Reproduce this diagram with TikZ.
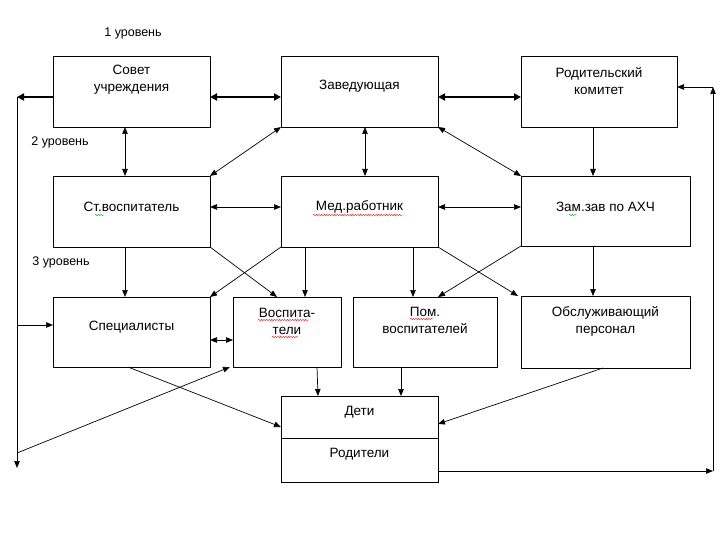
\documentclass[tikz,border=0pt]{standalone}
\usepackage{fontspec}
\setmainfont{Liberation Sans}
\usetikzlibrary{arrows.meta, calc, decorations.pathmorphing}

\begin{document}
\begin{tikzpicture}[x=1pt, y=-1pt, font=\fontsize{13.5}{17}\selectfont,
	box/.style={draw, line width=0.8pt, inner sep=0pt, outer sep=0pt},
	txt/.style={align=center, inner sep=0pt},
	lev/.style={font=\fontsize{12.5}{15}\selectfont},
	conn/.style={line width=0.7pt, -{Triangle[length=7pt,width=5.5pt]}},
	both/.style={line width=0.7pt, {Triangle[length=7pt,width=5.5pt]}-{Triangle[length=7pt,width=5.5pt]}},
	boldboth/.style={line width=2pt, {Triangle[length=7pt,width=7pt]}-{Triangle[length=7pt,width=7pt]}},
	boldconn/.style={line width=2pt, -{Triangle[length=7pt,width=7pt]}},
	plain/.style={line width=0.7pt},
	squig/.style={line width=0.4pt, decorate, decoration={snake, amplitude=0.6pt, segment length=2.6pt}}]
\fill[white] (0,0) rectangle (720,540);
\useasboundingbox (0,0) rectangle (720,540);
% boxes
\foreach \n/\x/\y/\w/\h in {sovet/131.5/91.5/157/71, zav/359.5/91.5/157/71,
	komitet/599/91.5/156/71, stvosp/131.5/211.5/157/71, med/359.5/211.5/157/71,
	zamzav/605.5/211/169/70, spec/131.5/332/157/70, vosp/287/332/108/70,
	pom/425/332/144/70, obsl/605.5/332/169/72, deti/359.5/417/157/42,
	rod/359.5/460/157/44}
	\node[box, minimum width=\w, minimum height=\h] (\n) at (\x,\y) {};
% texts
\node[txt] (sovet-t) at (131.5,80) {Совет\\учреждения};
\node[txt] (zav-t) at (359.5,86) {Заведующая};
\node[txt] (komitet-t) at (599,81) {Родительский\\комитет};
\node[txt] (stvosp-t) at (131.5,207) {Ст.воспитатель};
\node[txt] (med-t) at (359.5,207) {Мед.работник};
\node[txt] (zamzav-t) at (605.5,207) {Зам.зав по АХЧ};
\node[txt] (spec-t) at (131.5,327) {Специалисты};
\node[txt] (vosp-t) at (287,321) {Воспита-\\тели};
\node[txt] (pom-t) at (425,320) {Пом.\\воспитателей};
\node[txt] (obsl-t) at (605.5,321) {Обслуживающий\\персонал};
\node[txt] (deti-t) at (359.5,412) {Дети};
\node[txt] (rod-t) at (359.5,454) {Родители};
% levels
\node[lev] (lev1) at (133,33) {1 уровень};
\node[lev] (lev2) at (60,142) {2 уровень};
\node[lev] (lev3) at (61,262) {3 уровень};
% spelling marks
\draw[squig, red] (313,215) -- (403,215);
\draw[squig, red] (258,320) -- (309,320);
\draw[squig, red] (272,337) -- (298,337);
\draw[squig, red] (410,319) -- (433,319);
\draw[squig, green!60!black] (95,215) -- (104,215);
\draw[squig, green!60!black] (569,215) -- (577,215);
% outer lines
\coordinate (L1) at (17,97);
\coordinate (L2) at (17,468);
\coordinate (Lspec) at (17,325);
\coordinate (Lvosp) at (17,453);
\coordinate (R1) at (713,471);
\coordinate (R2) at (713,87);
\draw[boldconn] ([yshift=-5.5]sovet.west) -- (L1);
\draw[conn] (L1) -- (L2);
\draw[conn] (Lspec) -- ([yshift=7]spec.west);
\draw[conn] (Lvosp) -- ([xshift=-3]vosp.south west);
\draw[conn] ([yshift=-11]rod.east) -- (R1);
\draw[conn] (R1) -- (R2);
\draw[conn] (R2) -- ([yshift=4.5]komitet.east);
% level 1
\draw[boldboth] ([yshift=-5.5]sovet.east) -- ([yshift=-5.5]zav.west);
\draw[boldboth] ([yshift=-5.5]zav.east) -- ([yshift=-5.5]komitet.west);
% level 1 - level 2
\draw[both] ([xshift=-6.5]sovet.south) -- ([xshift=-6.5]stvosp.north);
\draw[both] ([xshift=5.5]zav.south) -- ([xshift=5.5]med.north);
\draw[both] (zav.south west) -- (stvosp.north east);
\draw[both] (zav.south east) -- (zamzav.north west);
\draw[conn] ([xshift=-6]komitet.south) -- ([xshift=-12.5]zamzav.north);
% level 2
\draw[both] ([yshift=4.5]stvosp.east) -- ([yshift=4.5]med.west);
\draw[both] ([yshift=4.5]med.east) -- ([yshift=4]zamzav.west);
% level 2 - level 3
\draw[conn] ([xshift=-6.5]stvosp.south) -- ([xshift=-6.5]spec.north);
\draw[conn] (stvosp.south east) -- ([xshift=44]vosp.north west);
\draw[conn] (med.south west) -- (spec.north east);
\draw[conn] ([xshift=-54.5]med.south) -- ([xshift=18]vosp.north);
\draw[conn] ([xshift=53.5]med.south) -- ([xshift=-12]pom.north);
\draw[conn] (med.south east) -- ([xshift=-3]obsl.north west);
\draw[conn] (zamzav.south west) -- ([xshift=13]pom.north);
\draw[conn] ([xshift=-12.5]zamzav.south) -- ([xshift=-12.5]obsl.north);
% level 3
\draw[both] ([yshift=-8]spec.east) -- ([yshift=-8]vosp.west);
% level 3 - children
\draw[conn] ([xshift=-3.5]spec.south) -- ([yshift=-10]deti.west);
\draw[conn] ([xshift=30]vosp.south) -- ([xshift=-41.5]deti.north);
\draw[conn] ([xshift=-24]pom.south) -- ([xshift=41.5]deti.north);
\draw[conn] ([xshift=-2.5]obsl.south) -- ([yshift=-7]deti.east);
\end{tikzpicture}
\end{document}
